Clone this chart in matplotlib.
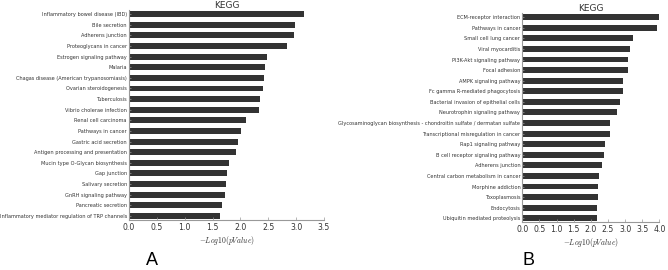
import matplotlib.pyplot as plt
import matplotlib as mpl

mpl.rcParams['mathtext.fontset'] = 'cm'

# Panel A data
terms_a = ['Inflammatory bowel disease (IBD)', 'Bile secretion', 'Adherens junction',
           'Proteoglycans in cancer', 'Estrogen signaling pathway', 'Malaria',
           'Chagas disease (American trypanosomiasis)', 'Ovarian steroidogenesis',
           'Tuberculosis', 'Vibrio cholerae infection', 'Renal cell carcinoma',
           'Pathways in cancer', 'Gastric acid secretion', 'Antigen processing and presentation',
           'Mucin type O-Glycan biosynthesis', 'Gap junction', 'Salivary secretion',
           'GnRH signaling pathway', 'Pancreatic secretion',
           'Inflammatory mediator regulation of TRP channels']
vals_a = [3.14, 2.98, 2.96, 2.84, 2.48, 2.45, 2.42, 2.40, 2.36, 2.33,
          2.10, 2.02, 1.96, 1.93, 1.79, 1.76, 1.75, 1.72, 1.67, 1.64]
ticks_a = [0.0, 0.5, 1.0, 1.5, 2.0, 2.5, 3.0, 3.5]

# Panel B data
terms_b = ['ECM-receptor interaction', 'Pathways in cancer', 'Small cell lung cancer',
           'Viral myocarditis', 'PI3K-Akt signaling pathway', 'Focal adhesion',
           'AMPK signaling pathway', 'Fc gamma R-mediated phagocytosis',
           'Bacterial invasion of epithelial cells', 'Neurotrophin signaling pathway',
           'Glycosaminoglycan biosynthesis - chondroitin sulfate / dermatan sulfate',
           'Transcriptional misregulation in cancer', 'Rap1 signaling pathway',
           'B cell receptor signaling pathway', 'Adherens junction',
           'Central carbon metabolism in cancer', 'Morphine addiction',
           'Toxoplasmosis', 'Endocytosis', 'Ubiquitin mediated proteolysis']
vals_b = [3.98, 3.94, 3.23, 3.15, 3.09, 3.08, 2.95, 2.93, 2.85, 2.77,
          2.56, 2.55, 2.42, 2.38, 2.34, 2.23, 2.22, 2.21, 2.19, 2.17]
ticks_b = [0.0, 0.5, 1.0, 1.5, 2.0, 2.5, 3.0, 3.5, 4.0]

fig = plt.figure(figsize=(6.68, 2.70), dpi=100)


def draw(ax, terms, vals, ticks):
    n = len(terms)
    pos = list(range(n))[::-1]
    ax.barh(pos, vals, height=0.56, color='#333333', edgecolor='none')
    ax.set_yticks(pos)
    ax.set_yticklabels(terms, fontsize=3.6, color='#333333')
    ax.set_ylim(-0.4, n - 0.6)
    ax.set_xlim(ticks[0], ticks[-1])
    ax.set_xticks(ticks)
    ax.set_xticklabels(['%.1f' % t for t in ticks], fontsize=5.6, color='#333333')
    for s in ['top', 'right']:
        ax.spines[s].set_visible(False)
    for s in ['left', 'bottom']:
        ax.spines[s].set_color('#999999')
        ax.spines[s].set_linewidth(0.8)
    ax.tick_params(axis='x', direction='in', length=2, width=0.5, color='#999999', pad=2)
    ax.tick_params(axis='y', direction='in', length=1.5, width=0.5, color='#999999', pad=1.5)
    ax.set_title('KEGG', fontsize=6.5, color='#333333', pad=1.5)
    ax.set_xlabel(r'$-Log10(pValue)$', fontsize=5.5, color='#333333', labelpad=1.5)


ax1 = fig.add_axes([0.193, 0.185, 0.292, 0.778])
draw(ax1, terms_a, vals_a, ticks_a)
ax2 = fig.add_axes([0.782, 0.176, 0.205, 0.776])
draw(ax2, terms_b, vals_b, ticks_b)

fig.text(152 / 668, 1 - 265 / 270, 'A', fontsize=13, ha='center', va='baseline',
         color='black', family='Liberation Sans')
fig.text(528 / 668, 1 - 265 / 270, 'B', fontsize=13, ha='center', va='baseline',
         color='black', family='Liberation Sans')

fig.savefig('out.png', dpi=100)
